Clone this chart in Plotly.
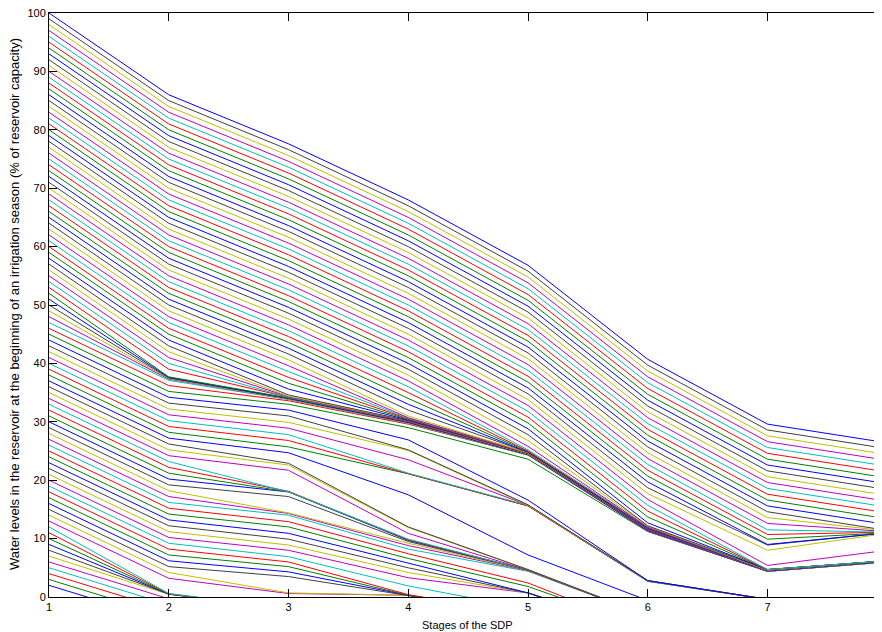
import plotly.graph_objects as go

# Water level (% of capacity) of each trajectory at each SDP stage.
# One entry per trajectory; trajectories are ordered by their stage-1 level.
start_level = [
    2, 3, 4, 5, 6, 7, 8, 9, 10, 11,
    12, 13, 14, 15, 16, 17, 18, 19, 20, 21,
    22, 23, 24, 25, 26, 27, 28, 29, 30, 31,
    32, 33, 34, 35, 36, 37, 38, 39, 40, 41,
    42, 43, 44, 45, 46, 47, 48, 49, 50, 51,
    52, 53, 54, 55, 56, 57, 58, 59, 60, 61,
    62, 63, 64, 65, 66, 67, 68, 69, 70, 71,
    72, 73, 74, 75, 76, 77, 78, 79, 80, 81,
    82, 83, 84, 85, 86, 87, 88, 89, 90, 91,
    92, 93, 94, 95, 96, 97, 98, 99, 100,
]
stage_2 = [
    -4.3, -3.3, -2.3, -1.3, -0.3, 0.45, 0.5, 0.5, 0.5, 0.55,
    0.6, 3.2, 4.2, 5.2, 6.2, 7.2, 8.2, 9.2, 10.2, 11.2,
    12.2, 13.2, 14.2, 15.2, 16.2, 17.2, 18.2, 19.2, 20.2, 21.2,
    22.2, 23.2, 24.2, 25.2, 26.2, 27.2, 28.2, 29.2, 30.2, 31.2,
    32.2, 33.2, 34.2, 35.2, 36.2, 37.1, 37.3, 37.4, 37.5, 37.6,
    37.7, 39, 40, 41, 42, 43, 44, 45, 46, 47,
    48, 49, 50, 51, 52, 53, 54, 55, 56, 57,
    58, 59, 60, 61, 62, 63, 64, 65, 66, 67,
    68, 69, 70, 71, 72, 73, 74, 75, 76, 77,
    78, 79, 80, 81, 82, 83, 84, 85, 86,
]
stage_3 = [
    -7, -7, -7, -7, -7, -2, -2, -2, -2, -2,
    -2, 0.6, 0.7, 3.5, 4.3, 5.2, 6.0, 6.9, 8.0, 8.9,
    9.9, 10.9, 12.0, 12.9, 14.0, 14.3, 14.4, 17.2, 18.0, 18.0,
    18.1, 18.0, 21.7, 22.6, 22.9, 24.7, 25.7, 26.8, 27.8, 28.9,
    29.9, 31.0, 32.0, 33.0, 33.6, 33.8, 33.9, 33.9, 34.0, 34.0,
    34.1, 34.2, 34.2, 34.3, 34.4, 34.6, 35.6, 36.6, 37.6, 38.6,
    39.6, 40.6, 41.6, 42.6, 43.6, 44.6, 45.6, 46.6, 47.6, 48.6,
    49.6, 50.6, 51.6, 52.6, 53.6, 54.6, 55.6, 56.6, 57.6, 58.6,
    59.6, 60.6, 61.6, 62.6, 63.6, 64.6, 65.6, 66.6, 67.6, 68.6,
    69.6, 70.6, 71.6, 72.6, 73.6, 74.6, 75.6, 76.6, 77.6,
]
stage_4 = [
    -9, -9, -9, -9, -9, -9, -9, -9, -9, -9,
    -9, 0.3, 0.3, 0.3, 0.3, 0.3, 0.4, 1.9, 3.3, 4.2,
    5.0, 5.8, 6.6, 7.4, 8.2, 8.8, 9.2, 9.5, 9.7, 9.8,
    9.8, 9.9, 10.9, 11.9, 12.0, 17.5, 21.1, 21.1, 21.2, 23.5,
    25.1, 25.2, 26.9, 29.0, 29.6, 29.7, 29.8, 29.8, 29.9, 29.9,
    30.0, 30.0, 30.1, 30.1, 30.2, 30.2, 30.3, 30.4, 30.5, 30.6,
    30.7, 31.0, 32.0, 33.0, 34.0, 35.0, 36.0, 37.0, 38.0, 39.0,
    40, 41, 42, 43, 44, 45, 46, 47, 48, 49,
    50, 51, 52, 53, 54, 55, 56, 57, 58, 59,
    60, 61, 62, 63, 64, 65, 66, 67, 68,
]
stage_5 = [
    -12, -12, -12, -12, -12, -12, -12, -12, -12, -12,
    -12, -3, -3, -3, -3, -3, -3, -2, 0.7, 0.7,
    0.7, 0.7, 1.8, 2.4, 4.4, 4.5, 4.5, 4.6, 4.6, 4.6,
    4.6, 4.6, 4.6, 4.7, 4.7, 7.2, 15.6, 15.6, 15.7, 15.7,
    15.7, 15.8, 16.6, 23.6, 24.3, 24.3, 24.4, 24.4, 24.4, 24.4,
    24.5, 24.5, 24.5, 24.5, 24.5, 24.6, 24.6, 24.6, 24.6, 24.7,
    24.7, 24.7, 24.8, 24.8, 24.9, 25.0, 25.2, 25.8, 26.8, 27.8,
    28.8, 29.8, 30.8, 31.8, 32.8, 33.8, 34.8, 35.8, 36.8, 37.8,
    38.8, 39.8, 40.8, 41.8, 42.8, 43.8, 44.8, 45.8, 46.8, 47.8,
    48.8, 49.8, 50.8, 51.8, 52.8, 53.8, 54.8, 55.8, 56.8,
]
stage_6 = [
    -15, -15, -15, -15, -15, -15, -15, -15, -15, -15,
    -15, -15, -15, -15, -15, -15, -15, -15, -6, -6,
    -6, -6, -5.4, -5.6, -3.2, -3.2, -3.2, -3.2, -3.2, -3.2,
    -3.2, -3.2, -3.2, -3.2, -3.2, -0.6, 2.7, 2.7, 2.7, 2.8,
    2.8, 2.8, 2.8, 11.2, 11.3, 11.3, 11.3, 11.4, 11.4, 11.4,
    11.5, 11.5, 11.5, 11.5, 11.6, 11.6, 11.6, 11.6, 11.7, 11.7,
    11.7, 11.8, 11.8, 11.8, 11.9, 11.9, 12.0, 12.0, 12.1, 12.2,
    12.7, 13.7, 14.7, 15.7, 16.7, 17.7, 18.7, 19.7, 20.7, 21.7,
    22.7, 23.7, 24.7, 25.7, 26.7, 27.7, 28.7, 29.7, 30.7, 31.7,
    32.7, 33.7, 34.7, 35.7, 36.7, 37.7, 38.7, 39.7, 40.7,
]
stage_7 = [
    -10, -10, -10, -10, -10, -10, -10, -10, -10, -10,
    -10, -10, -10, -10, -10, -10, -10, -10, -10, -10,
    -10, -10, -10, -10, -10, -10, -10, -10, -10, -10,
    -10, -10, -10, -10, -10, -5, -0.4, -0.4, -0.4, -0.4,
    -0.4, -0.4, -0.4, 4.4, 4.4, 4.4, 4.4, 4.5, 4.5, 4.5,
    4.5, 4.5, 4.5, 4.5, 4.5, 4.5, 4.5, 4.5, 4.5, 4.5,
    4.5, 4.5, 4.5, 4.5, 4.6, 4.6, 4.6, 4.6, 4.6, 4.7,
    4.7, 4.7, 4.7, 4.7, 5.4, 8.0, 8.9, 9.0, 9.9, 10.7,
    11.5, 12.6, 13.6, 14.6, 15.6, 16.6, 17.6, 18.6, 19.6, 20.6,
    21.6, 22.6, 23.6, 24.6, 25.6, 26.6, 27.6, 28.6, 29.6,
]
stage_8 = [
    -12, -12, -12, -12, -12, -12, -12, -12, -12, -12,
    -12, -12, -12, -12, -12, -12, -12, -12, -12, -12,
    -12, -12, -12, -12, -12, -12, -12, -12, -12, -12,
    -12, -12, -12, -12, -12, -12, -12, -12, -12, -12,
    -12, -12, -12, 6.0, 6.0, 6.0, 6.0, 6.0, 6.1, 6.1,
    6.1, 6.1, 6.1, 6.1, 6.1, 6.1, 6.1, 6.1, 6.1, 6.1,
    6.1, 6.1, 6.1, 6.1, 6.1, 6.2, 6.2, 6.2, 6.2, 6.2,
    6.2, 6.2, 6.2, 6.2, 8.0, 10.9, 11.0, 11.0, 11.0, 11.1,
    11.1, 11.2, 11.3, 11.4, 12.4, 13.4, 14.4, 15.4, 16.4, 17.4,
    18.4, 19.4, 20.4, 21.4, 22.4, 23.4, 24.4, 25.4, 26.4,
]

stages = [1, 2, 3, 4, 5, 6, 7, 8]
x_tick_vals = [1, 2, 3, 4, 5, 6, 7]
y_tick_vals = [0, 10, 20, 30, 40, 50, 60, 70, 80, 90, 100]

x_title = "Stages of the SDP"
y_title = ("Water levels in the reservoir at the beginning of an irrigation "
           "season (% of reservoir capacity)")

# MATLAB classic line colour order
line_colors = ["#0000FF", "#008000", "#FF0000", "#00BFBF",
               "#BF00BF", "#BFBF00", "#404040"]

levels = [start_level, stage_2, stage_3, stage_4,
          stage_5, stage_6, stage_7, stage_8]

fig = go.Figure()
for i in range(len(start_level)):
    fig.add_trace(go.Scatter(
        x=stages,
        y=[lv[i] for lv in levels],
        mode="lines",
        line=dict(color=line_colors[i % len(line_colors)], width=1),
        showlegend=False,
        hoverinfo="skip",
    ))

# The page puts the figure 8 px in from the window's top-left corner.
OFF = 8
PAGE_W, PAGE_H = 882, 632
W, H = PAGE_W - OFF, PAGE_H - OFF
# target positions in window pixels
left_px, top_px, bottom_px = 49, 13, 597
px_per_stage = 119.75
x_max = 1 + (PAGE_W - left_px) / px_per_stage   # axes box runs just past the picture edge
tick_len = 8

m_l = left_px - OFF
m_t = top_px - OFF
m_b = H - (bottom_px - OFF)
plot_w = W - m_l
plot_h = (bottom_px - top_px)

# right-hand y ticks (the right axis line itself falls outside the picture)
shapes = []
for t in y_tick_vals:
    shapes.append(dict(type="line", xref="x", yref="y",
                       x0=8 - tick_len / px_per_stage, x1=8, y0=t, y1=t,
                       line=dict(color="black", width=1)))

font_family = "Liberation Sans, Arial, sans-serif"
fig.update_layout(
    width=W, height=H,
    margin=dict(l=m_l, r=0, t=m_t, b=m_b, pad=0),
    paper_bgcolor="white", plot_bgcolor="white",
    font=dict(family=font_family, size=11, color="black"),
    shapes=shapes,
    xaxis=dict(range=[1, x_max], tickvals=x_tick_vals,
               ticks="inside", ticklen=tick_len, tickcolor="black", tickwidth=1,
               showline=True, linecolor="black", linewidth=1, mirror="ticks",
               showgrid=False, zeroline=False, ticklabeloverflow="allow",
               tickfont=dict(size=11, color="black")),
    yaxis=dict(range=[0, 100], tickvals=y_tick_vals,
               ticks="inside", ticklen=tick_len, tickcolor="black", tickwidth=1,
               showline=True, linecolor="black", linewidth=1, mirror=False,
               showgrid=False, zeroline=False, ticklabeloverflow="allow",
               tickfont=dict(size=11, color="black")),
    annotations=[
        dict(text=x_title, xref="paper", yref="paper",
             x=(468 - left_px) / plot_w, y=-(625 - bottom_px) / plot_h,
             xanchor="center", yanchor="middle", showarrow=False,
             font=dict(size=11, color="black")),
        dict(text=y_title, xref="paper", yref="paper",
             x=-(left_px - 14) / plot_w, y=(bottom_px - 304) / plot_h,
             xanchor="center", yanchor="middle", textangle=-90, showarrow=False,
             font=dict(size=13, color="black")),
    ],
)

fig.write_html("out.html")
